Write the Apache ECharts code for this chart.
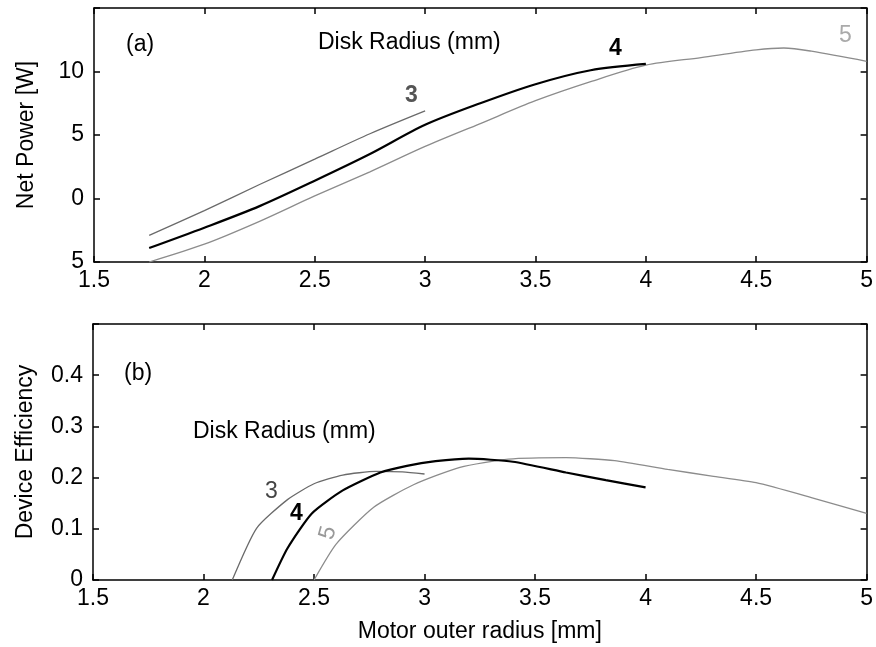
<!DOCTYPE html>
<html>
<head>
<meta charset="utf-8">
<script src="https://cdn.jsdelivr.net/npm/echarts@6/dist/echarts.min.js"></script>
<style>
html,body{margin:0;padding:0;background:#fff;}
#c{width:876px;height:647px;}
</style>
</head>
<body>
<div id="c"></div>
<script>
// ---- Data: panel (a) Net Power [W] vs motor outer radius [mm]
const powerX3 = [1.75, 2.0, 2.25, 2.5, 2.75, 3.0];
const powerY3 = [-2.9, -0.95, 1.1, 3.1, 5.1, 6.9];
const powerX4 = [1.75, 2.0, 2.25, 2.5, 2.75, 3.0, 3.25, 3.5, 3.75, 4.0];
const powerY4 = [-3.9, -2.3, -0.6, 1.4, 3.5, 5.8, 7.5, 9.0, 10.1, 10.6];
const powerX5 = [1.75, 2.0, 2.25, 2.5, 2.75, 3.0, 3.25, 3.5, 3.75, 4.0, 4.25, 4.5, 4.625, 4.75, 5.0];
const powerY5 = [-5.0, -3.6, -1.8, 0.2, 2.1, 4.1, 5.9, 7.7, 9.2, 10.5, 11.1, 11.7, 11.85, 11.6, 10.8];

// ---- Data: panel (b) Device efficiency vs motor outer radius [mm]
const effX3 = [2.13, 2.24, 2.38, 2.5, 2.63, 2.78, 2.9, 3.0];
const effY3 = [0, 0.101, 0.157, 0.188, 0.205, 0.212, 0.211, 0.207];
const effX4 = [2.31, 2.38, 2.49, 2.63, 2.8, 2.92, 3.05, 3.2, 3.4, 3.64, 3.82, 4.0];
const effY4 = [0, 0.062, 0.13, 0.175, 0.21, 0.223, 0.232, 0.237, 0.231, 0.21, 0.195, 0.181];
const effX5 = [2.5, 2.6, 2.77, 2.95, 3.16, 3.38, 3.64, 3.86, 4.1, 4.3, 4.5, 4.75, 5.0];
const effY5 = [0, 0.07, 0.142, 0.186, 0.22, 0.236, 0.239, 0.233, 0.216, 0.203, 0.19, 0.161, 0.13];

// ---- Axis ticks
const xTicks = [1.5, 2, 2.5, 3, 3.5, 4, 4.5, 5];
const powerTicks = [-5, 0, 5, 10];
const effTicks = [0, 0.1, 0.2, 0.3, 0.4];

const FONT = 'Liberation Sans, Arial, Helvetica, sans-serif';
const FS = 23;
const pair = (xs, ys) => xs.map((x, i) => [x, ys[i]]);

const axLine = {show: true, onZero: false, lineStyle: {color: '#000', width: 1.5}};
const tickIn = {show: true, inside: true, length: 6, lineStyle: {color: '#000', width: 1.5}};

function xAxes(gi, name) {
  return [
    {type: 'value', gridIndex: gi, min: 1.5, max: 5, interval: 0.5, position: 'bottom',
     axisLine: axLine, axisTick: tickIn, splitLine: {show: false},
     axisLabel: {color: '#000', fontFamily: FONT, fontSize: FS, margin: 7,
       formatter: v => xTicks.includes(v) ? String(v) : ''},
     name: name, nameLocation: 'middle', nameGap: 40,
     nameTextStyle: {color: '#000', fontFamily: FONT, fontSize: FS}},
    {type: 'value', gridIndex: gi, min: 1.5, max: 5, interval: 0.5, position: 'top',
     axisLine: axLine, axisTick: tickIn, splitLine: {show: false}, axisLabel: {show: false}}
  ];
}

function yAxes(gi, min, max, interval, ticks, fmt, name) {
  return [
    {type: 'value', gridIndex: gi, min: min, max: max, interval: interval, position: 'left',
     axisLine: axLine, axisTick: tickIn, splitLine: {show: false},
     axisLabel: {color: '#000', fontFamily: FONT, fontSize: FS, margin: 10,
       formatter: v => { const t = ticks.find(k => Math.abs(k - v) < 1e-9); return t === undefined ? '' : fmt(t); }},
     name: name, nameLocation: 'middle', nameGap: 56,
     nameTextStyle: {color: '#000', fontFamily: FONT, fontSize: FS}},
    {type: 'value', gridIndex: gi, min: min, max: max, interval: interval, position: 'right',
     axisLine: axLine, axisTick: tickIn, splitLine: {show: false}, axisLabel: {show: false}}
  ];
}

const grey3 = '#6a6a6a', grey5 = '#8c8c8c';
function line(name, xi, yi, data, color, width, smooth) {
  return {name: name, type: 'line', xAxisIndex: xi, yAxisIndex: yi, data: data,
    showSymbol: false, smooth: smooth, lineStyle: {color: color, width: width}, silent: true, z: width > 1.5 ? 3 : 2};
}

const option = {
  backgroundColor: '#fff',
  animation: false,
  grid: [
    {left: 94, right: 3, top: 8, height: 254},
    {left: 93, right: 5, top: 324, height: 256}
  ],
  xAxis: [...xAxes(0, ''), ...xAxes(1, 'Motor outer radius [mm]')],
  yAxis: [
    ...yAxes(0, -5, 15, 5, powerTicks, v => String(Math.abs(v)), 'Net Power [W]'),
    ...yAxes(1, 0, 0.5, 0.1, effTicks, v => (v === 0 ? '0' : v.toFixed(1)), 'Device Efficiency')
  ],
  series: [
    line('3', 0, 0, pair(powerX3, powerY3), grey3, 1.3, 0.3),
    line('5', 0, 0, pair(powerX5, powerY5), grey5, 1.3, 0.3),
    line('4', 0, 0, pair(powerX4, powerY4), '#000', 2.2, 0.3),
    line('3', 2, 2, pair(effX3, effY3), grey3, 1.3, 0.2),
    line('5', 2, 2, pair(effX5, effY5), grey5, 1.3, 0.2),
    line('4', 2, 2, pair(effX4, effY4), '#000', 2.2, 0.2)
  ],
  graphic: [
    {type: 'text', left: 126, top: 33, style: {text: '(a)', font: FS + 'px ' + FONT, fill: '#000'}},
    {type: 'text', left: 318, top: 31, style: {text: 'Disk Radius (mm)', font: FS + 'px ' + FONT, fill: '#000'}},
    {type: 'text', left: 405, top: 84, style: {text: '3', font: 'bold ' + FS + 'px ' + FONT, fill: '#555'}},
    {type: 'text', left: 609, top: 37, style: {text: '4', font: 'bold ' + FS + 'px ' + FONT, fill: '#000'}},
    {type: 'text', left: 839, top: 24, style: {text: '5', font: FS + 'px ' + FONT, fill: '#aaa'}},
    {type: 'text', left: 124, top: 362, style: {text: '(b)', font: FS + 'px ' + FONT, fill: '#000'}},
    {type: 'text', left: 193, top: 420, style: {text: 'Disk Radius (mm)', font: FS + 'px ' + FONT, fill: '#000'}},
    {type: 'text', left: 265, top: 480, style: {text: '3', font: FS + 'px ' + FONT, fill: '#444'}},
    {type: 'text', left: 290, top: 502, style: {text: '4', font: 'bold ' + FS + 'px ' + FONT, fill: '#000'}},
    {type: 'text', x: 328, y: 533, rotation: 1.3, style: {text: '5', font: FS + 'px ' + FONT, fill: '#999', align: 'center', verticalAlign: 'middle'}}
  ]
};

const chart = echarts.init(document.getElementById('c'), null, {renderer: 'canvas'});
chart.setOption(option);
</script>
</body>
</html>
